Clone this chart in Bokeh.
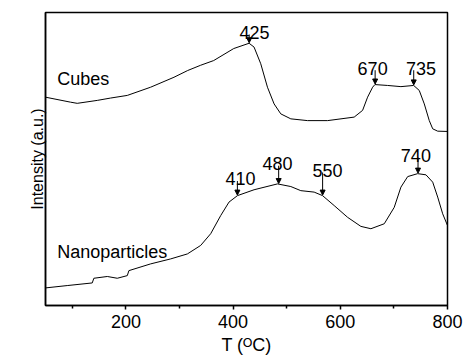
import numpy as np
from bokeh.plotting import figure
from bokeh.models import Range1d, FixedTicker, Arrow, NormalHead, ColumnDataSource
from bokeh.core.properties import value
from bokeh.embed import file_html
from bokeh.resources import INLINE

# ---- data ----
cubes_T = [50, 96.7, 109.2, 146.6, 171.4, 202.6, 246.1, 289.7, 315.3, 339.5, 363.8,
           401.2, 429.8, 439.1, 451.6, 464.1, 476.5, 489.0, 507.7, 538.9, 576.2,
           625.9, 641.6, 650.9, 660.3, 664.6, 688.3, 713.1, 736.9, 747.3, 756.7,
           766.0, 772.4, 781.7, 800]
cubes_I = [71.1, 69.4, 69.0, 70.0, 70.8, 71.7, 74.5, 77.9, 80.2, 82.0, 83.6,
           87.7, 89.5, 88.2, 82.5, 74.5, 68.8, 65.4, 63.7, 63.1, 63.1,
           64.3, 66.6, 71.1, 74.5, 75.4, 75.1, 74.7, 75.1, 73.4, 68.8,
           63.1, 60.3, 59.5, 59.4]

nano_T = [50, 90.5, 137.2, 140.2, 165.3, 183.9, 202.6, 205.6, 246.1, 283.5, 314.7,
          339.5, 358.2, 376.9, 392.4, 408.1, 439.1, 482.8, 507.7, 526.3, 551.2,
          566.9, 588.6, 613.6, 638.4, 657.1, 682.0, 700.6, 713.1, 725.7, 744.3,
          759.8, 772.4, 781.7, 791.0, 800]
nano_I = [6.0, 6.8, 7.7, 9.3, 9.9, 9.3, 10.2, 11.9, 14.2, 15.9, 17.6,
          20.5, 24.5, 30.7, 35.3, 37.5, 39.5, 41.5, 40.6, 39.2, 38.7,
          37.5, 34.1, 30.1, 27.0, 26.2, 27.9, 33.5, 40.4, 44.0, 45.0,
          44.6, 42.1, 37.0, 31.3, 27.3]

# peak markers: arrow temperature, label text
cubes_peak_T = [430, 665, 737]
cubes_peak_lbl = ["425", "670", "735"]
nano_peak_T = [408, 485, 567, 745]
nano_peak_lbl = ["410", "480", "550", "740"]

series_names = ["Cubes", "Nanoparticles"]

x_ticks = [200, 400, 600, 800]
x_minor = [100, 300, 500, 700]

# ---- layout (label anchors: x centre, baseline; in data units) ----
cubes_lbl_x = [440, 660.3, 750.5]
cubes_lbl_y = [93.2, 81.0, 81.0]
nano_lbl_x = [414, 482.8, 576.2, 741]
nano_lbl_y = [43.2, 48.4, 46.1, 51.2]
name_x = [71.9, 71.9]
name_y = [77.4, 18.2]

FONT = "Liberation Sans"

p = figure(width=463, height=360, output_backend="svg", toolbar_location=None,
           x_range=Range1d(50, 800), y_range=Range1d(0, 100),
           min_border_left=45, min_border_right=16, min_border_top=12, min_border_bottom=55)

p.xgrid.visible = False
p.ygrid.visible = False
p.outline_line_color = "black"
p.outline_line_width = 1.5
p.background_fill_color = "white"
p.border_fill_color = "white"

# x axis
p.xaxis.ticker = FixedTicker(ticks=x_ticks, minor_ticks=x_minor)
p.xaxis.axis_label = "T (\u1D3CC)"
p.xaxis.axis_label_text_font = FONT
p.xaxis.axis_label_text_font_style = "normal"
p.xaxis.axis_label_text_font_size = "18px"
p.xaxis.axis_label_text_color = "black"
p.xaxis.axis_label_standoff = 4
p.xaxis.major_label_text_font = FONT
p.xaxis.major_label_text_font_size = "18px"
p.xaxis.major_label_text_color = "black"
p.xaxis.major_label_standoff = 5
p.xaxis.major_tick_in = 0
p.xaxis.major_tick_out = 4
p.xaxis.minor_tick_in = 0
p.xaxis.minor_tick_out = 3
p.xaxis.axis_line_width = 1.5
p.xaxis.major_tick_line_width = 1.5
p.xaxis.minor_tick_line_width = 1.5

# y axis
p.yaxis.ticker = FixedTicker(ticks=[])
p.yaxis.axis_label = "Intensity (a.u.)"
p.yaxis.axis_label_text_font = FONT
p.yaxis.axis_label_text_font_style = "normal"
p.yaxis.axis_label_text_font_size = "16px"
p.yaxis.axis_label_text_color = "black"
p.yaxis.axis_label_standoff = 0
p.yaxis.major_tick_line_color = None
p.yaxis.minor_tick_line_color = None
p.yaxis.axis_line_width = 1.5

# curves
p.line(cubes_T, cubes_I, line_color="black", line_width=1)
p.line(nano_T, nano_I, line_color="black", line_width=1)

# series names
p.text(x=name_x, y=name_y, text=series_names, text_font=value(FONT),
       text_font_size="18px", text_align="left", text_baseline="alphabetic",
       text_color="black")

# peak labels and arrows
def add_peaks(curve_T, curve_I, peak_T, labels, lx, ly):
    tips = np.interp(peak_T, curve_T, curve_I)
    p.text(x=lx, y=ly, text=labels, text_font=value(FONT), text_font_size="18px",
           text_align="center", text_baseline="alphabetic", text_color="black")
    src = ColumnDataSource(dict(x0=peak_T, y0=[y - 0.7 for y in ly],
                                x1=peak_T, y1=list(tips + 0.2)))
    p.add_layout(Arrow(end=NormalHead(size=5, fill_color="black", line_color="black"),
                       x_start="x0", y_start="y0", x_end="x1", y_end="y1",
                       source=src, line_color="black", line_width=1))

add_peaks(cubes_T, cubes_I, cubes_peak_T, cubes_peak_lbl, cubes_lbl_x, cubes_lbl_y)
add_peaks(nano_T, nano_I, nano_peak_T, nano_peak_lbl, nano_lbl_x, nano_lbl_y)

open("out.html", "w").write(file_html(p, INLINE))
